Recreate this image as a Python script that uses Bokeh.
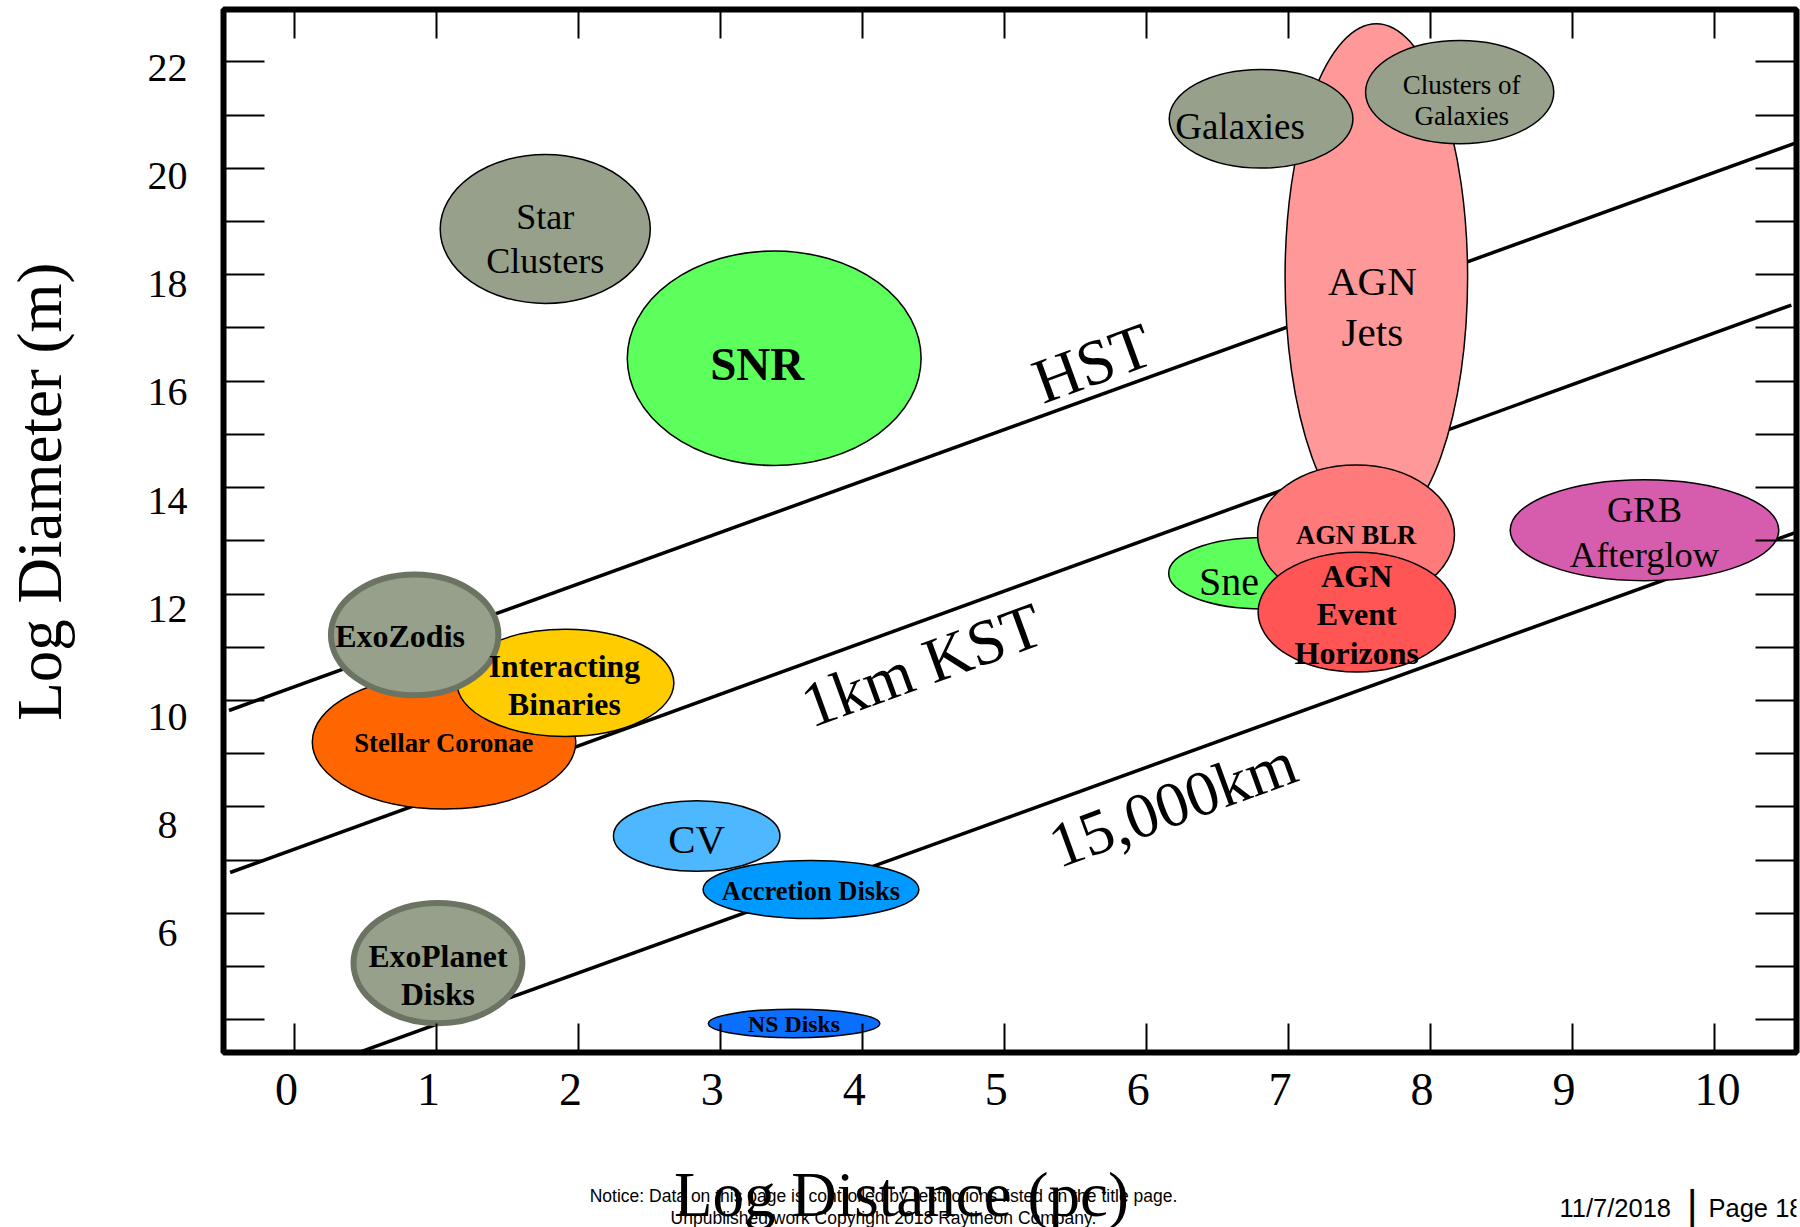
import math
from bokeh.plotting import figure
from bokeh.layouts import column
from bokeh.models import Range1d, LinearAxis, FixedTicker, Label, ColumnDataSource
from bokeh.core.properties import value
from bokeh.embed import file_html
from bokeh.resources import INLINE

# ---------------- data ----------------
names = ["Star Clusters", "SNR", "AGN Jets", "Galaxies", "Clusters of Galaxies", "Sne",
         "AGN BLR", "AGN Event Horizons", "GRB Afterglow", "Stellar Coronae",
         "Interacting Binaries", "ExoZodis", "CV", "Accretion Disks", "ExoPlanet Disks", "NS Disks"]
log_distance = [1.763, 3.376, 7.618, 6.806, 8.205, 6.82, 7.475, 7.48, 9.507, 1.05,
                1.905, 0.843, 2.83, 3.635, 1.007, 3.516]
log_diameter = [18.86, 16.43, 17.95, 20.93, 21.43, 12.39, 13.12, 11.66, 13.2, 9.22,
                10.33, 11.23, 7.453, 6.448, 5.065, 3.93]
distance_span = [1.48, 2.07, 1.286, 1.294, 1.326, 1.33, 1.387, 1.39, 1.892, 1.856,
                 1.528, 1.18, 1.173, 1.52, 1.19, 1.208]
diameter_span = [2.80, 4.03, 9.53, 1.855, 1.94, 1.342, 2.61, 2.254, 1.898, 2.52,
                 2.015, 2.27, 1.327, 1.094, 2.26, 0.535]
label_lines = [["Star", "Clusters"], ["SNR"], ["AGN", "Jets"], ["Galaxies"],
               ["Clusters of", "Galaxies"], ["Sne"], ["AGN BLR"], ["AGN", "Event", "Horizons"],
               ["GRB", "Afterglow"], ["Stellar Coronae"], ["Interacting", "Binaries"],
               ["ExoZodis"], ["CV"], ["Accretion Disks"], ["ExoPlanet", "Disks"], ["NS Disks"]]

limit_names = ["HST", "1km KST", "15,000km"]
limit_x = [[-0.465, 10.574], [-0.457, 10.542], [0.412, 10.574]]
limit_y = [[9.811, 20.478], [6.767, 17.43], [3.35, 13.16]]
limit_label_x = [5.617, 4.416, 6.183]
limit_label_y = [16.336, 10.663, 8.053]

x_ticks = list(range(0, 11))
y_ticks = list(range(4, 23))
y_tick_labels = list(range(6, 23, 2))

x_title = "Log Distance (pc)"
y_title = "Log Diameter (m)"
notice_lines = ["Notice: Data on this page is controlled by restrictions listed on the title page.",
                "Unpublished work Copyright 2018 Raytheon Company."]
date_text = "11/7/2018"
page_text = "Page 18"

# ---------------- styles ----------------
GRAY = "#96A08A"
fill = {"Star Clusters": GRAY, "SNR": "#5CFF5C", "AGN Jets": "#FF9999", "Galaxies": GRAY,
        "Clusters of Galaxies": GRAY, "Sne": "#5CFF5C", "AGN BLR": "#FF7B7B",
        "AGN Event Horizons": "#FF5555", "GRB Afterglow": "#D65CAD", "Stellar Coronae": "#FF6600",
        "Interacting Binaries": "#FFCC00", "ExoZodis": GRAY, "CV": "#4DB8FF",
        "Accretion Disks": "#0099FF", "ExoPlanet Disks": GRAY, "NS Disks": "#0A6EFF"}
thick = {"ExoZodis", "ExoPlanet Disks"}
# (font px, bold, line spacing px, dx px, dy px)
tstyle = {"Star Clusters": (36, False, 43.6, 0, 10), "SNR": (47, True, 0, -17, 6),
          "AGN Jets": (41, False, 51.7, -4, 29), "Galaxies": (37, False, 0, -21, 8),
          "Clusters of Galaxies": (27, False, 31, 2, 8.6), "Sne": (40, False, 0, -34, 8),
          "AGN BLR": (26.5, True, 0, 0, 1), "AGN Event Horizons": (32, True, 38.5, 0, 2),
          "GRB Afterglow": (36.5, False, 44.8, 0, 2), "Stellar Coronae": (26.7, True, 0, 0, 1),
          "Interacting Binaries": (31.7, True, 37.9, -1, 2.4), "ExoZodis": (32, True, 0, -14.6, 1.4),
          "CV": (41, False, 0, 0, 2.5), "Accretion Disks": (26.5, True, 0, 0, 2),
          "ExoPlanet Disks": (31.7, True, 37.9, 0, 12.6), "NS Disks": (23.8, True, 0, 0, 1)}
SERIF = "Liberation Serif"
SANS = "Liberation Sans"
NB = "\u00a0"

W = 1800
H_MAIN = 1130
H_FOOT = 1227 - H_MAIN
LEFT = 223
RIGHT = 4

p = figure(width=W, height=H_MAIN, output_backend="svg", toolbar_location=None,
           x_range=Range1d(-0.5037, 10.578), y_range=Range1d(3.385, 22.983),
           min_border_left=LEFT, min_border_right=RIGHT, min_border_top=9, min_border_bottom=78,
           background_fill_color="white", border_fill_color="white")
p.xgrid.visible = False
p.ygrid.visible = False
p.outline_line_color = "black"
p.outline_line_width = 6
p.extra_x_ranges = {"xlab": Range1d(-0.4438, 10.638)}
p.extra_y_ranges = {"ylab": Range1d(3.769, 23.083)}


def tick_only(ax, ticks, length):
    ax.ticker = FixedTicker(ticks=ticks)
    ax.major_tick_in = length
    ax.major_tick_out = 0
    ax.major_tick_line_width = 2
    ax.major_tick_line_color = "black"
    ax.minor_tick_line_color = None
    ax.axis_line_color = None
    ax.major_label_text_font_size = "0px"
    ax.major_label_text_color = None
    ax.major_label_standoff = 0


tick_only(p.xaxis[0], x_ticks, 29)
tick_only(p.yaxis[0], y_ticks, 41)
top_ax = LinearAxis()
tick_only(top_ax, x_ticks, 29)
p.add_layout(top_ax, "above")
right_ax = LinearAxis()
tick_only(right_ax, y_ticks, 41)
p.add_layout(right_ax, "right")


def label_axis(ax, ticks, size, standoff):
    ax.ticker = FixedTicker(ticks=ticks)
    ax.major_tick_line_color = None
    ax.major_tick_in = 0
    ax.major_tick_out = 0
    ax.minor_tick_line_color = None
    ax.axis_line_color = None
    ax.major_label_text_font = SERIF
    ax.major_label_text_font_size = size
    ax.major_label_text_color = "black"
    ax.major_label_standoff = standoff


xlab_ax = LinearAxis(x_range_name="xlab")
label_axis(xlab_ax, x_ticks, "46px", 11)
xlab_ax.major_label_overrides = {10: NB + NB + "10"}
p.add_layout(xlab_ax, "below")

ylab_ax = LinearAxis(y_range_name="ylab")
label_axis(ylab_ax, y_tick_labels, "40px", 36)
ylab_ax.major_label_overrides = {6: "6" + NB, 8: "8" + NB}
ylab_ax.axis_label = NB * 5 + y_title
ylab_ax.axis_label_text_font = SERIF
ylab_ax.axis_label_text_font_size = "63px"
ylab_ax.axis_label_text_font_style = "normal"
ylab_ax.axis_label_text_color = "black"
ylab_ax.axis_label_standoff = 70
p.add_layout(ylab_ax, "left")

# resolution limit lines
p.multi_line(xs=limit_x, ys=limit_y, line_color="black", line_width=3.5)
p.text(x=limit_label_x, y=limit_label_y, text=limit_names, angle=0.35,
       text_font=value(SERIF), text_font_size="64px", text_align="center",
       text_baseline="middle", text_color="black")

# object ellipses
esrc = ColumnDataSource(dict(
    x=log_distance, y=log_diameter, w=distance_span, h=diameter_span,
    fill=[fill[n] for n in names],
    lc=["#6B7363" if n in thick else "black" for n in names],
    lw=[6 if n in thick else 1.5 for n in names]))
p.ellipse(x="x", y="y", width="w", height="h", source=esrc, fill_color="fill",
          line_color="lc", line_width="lw")

# object labels
for bold in (False, True):
    d = dict(x=[], y=[], t=[], xo=[], yo=[], fs=[])
    for i, n in enumerate(names):
        fs, b, sp, dx, dy = tstyle[n]
        if b != bold:
            continue
        lines = label_lines[i]
        k = len(lines)
        for j, line in enumerate(lines):
            d["x"].append(log_distance[i])
            d["y"].append(log_diameter[i])
            d["t"].append(line)
            d["xo"].append(dx)
            d["yo"].append(dy + (j - (k - 1) / 2) * sp)
            d["fs"].append(f"{fs}px")
    p.text(x="x", y="y", text="t", x_offset="xo", y_offset="yo", text_font_size="fs",
           source=ColumnDataSource(d), text_font=value(SERIF),
           text_font_style="bold" if bold else "normal",
           text_align="center", text_baseline="middle", text_color="black")

# ---------------- footer strip: axis title, notice, date ----------------
f = figure(width=W, height=H_FOOT, output_backend="svg", toolbar_location=None,
           x_axis_location=None, y_axis_location=None,
           min_border_left=LEFT, min_border_right=RIGHT, min_border_top=0, min_border_bottom=0,
           x_range=Range1d(0, W), y_range=Range1d(0, H_FOOT),
           background_fill_color="white", border_fill_color="white")
f.outline_line_color = None
f.grid.visible = False


def foot(px, y, text, font, size, align):
    # px: horizontal position on the page; labels are placed relative to the frame's left edge
    f.add_layout(Label(x=px - LEFT, y=y, x_units="screen", y_units="screen", text=text,
                       text_font=font, text_font_size=size, text_align=align,
                       text_baseline="middle", text_color="black"))


foot(901, 32.3, x_title, SERIF, "63px", "center")
foot(883, 32, notice_lines[0], SANS, "17.5px", "center")
foot(883, 9.6, notice_lines[1], SANS, "17.5px", "center")
foot(1559, 19.8, date_text, SANS, "25.5px", "left")
foot(1691.7, 22, "|", SANS, "42px", "center")
foot(1708, 19.8, page_text, SANS, "25.5px", "left")

layout = column(p, f, spacing=0)
open("out.html", "w").write(file_html(layout, INLINE))
